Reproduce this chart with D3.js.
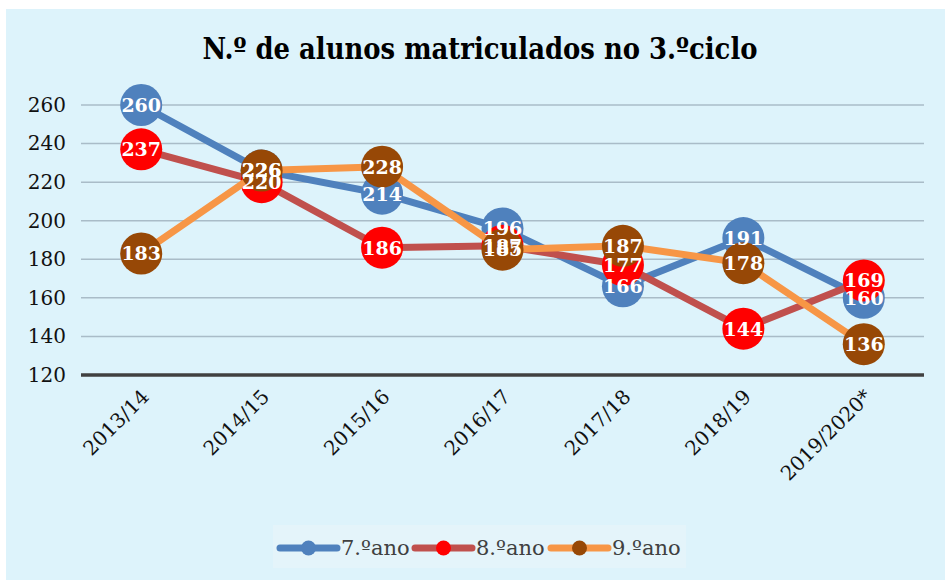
<!DOCTYPE html>
<html>
<head>
<meta charset="utf-8">
<script src="https://cdn.jsdelivr.net/npm/d3@7"></script>
<style>
  html, body { margin: 0; padding: 0; background: #fff; }
  svg { display: block; }
</style>
</head>
<body>
<div id="chart"></div>
<script>
var years = ["2013/14", "2014/15", "2015/16", "2016/17", "2017/18", "2018/19", "2019/2020*"];
var ano7 = [260, 226, 214, 196, 166, 191, 160];
var ano8 = [237, 220, 186, 187, 177, 144, 169];
var ano9 = [183, 226, 228, 185, 187, 178, 136];
var seriesNames = ["7.ºano", "8.ºano", "9.ºano"];
var yTicks = [120, 140, 160, 180, 200, 220, 240, 260];

var series = [
	{ name: seriesNames[0], values: ano7, line: "#4F81BD", marker: "#4F81BD" },
	{ name: seriesNames[1], values: ano8, line: "#C0504D", marker: "#FF0000" },
	{ name: seriesNames[2], values: ano9, line: "#F79646", marker: "#974806" }
];

var width = 945, height = 580;
var serif = "'DejaVu Serif', 'Liberation Serif', serif";

var svg = d3.select("#chart").append("svg")
	.attr("width", width)
	.attr("height", height);

// panel background
svg.append("rect")
	.attr("x", 6).attr("y", 9)
	.attr("width", width - 6).attr("height", height - 9)
	.attr("fill", "#DDF3FB");

// title
svg.append("text")
	.attr("x", 480).attr("y", 59)
	.attr("text-anchor", "middle")
	.attr("textLength", 555)
	.attr("lengthAdjust", "spacingAndGlyphs")
	.style("font-family", serif)
	.style("font-weight", "bold")
	.style("font-size", "30px")
	.style("fill", "#000")
	.text("N.º de alunos matriculados no 3.ºciclo");

var x = d3.scaleBand()
	.domain(years)
	.range([81, 924]);

var y = d3.scaleLinear()
	.domain([120, 260])
	.range([375, 105]);

function cx(i) { return x(years[i]) + x.bandwidth() / 2; }

// gridlines
svg.append("g").selectAll("line")
	.data(yTicks.filter(function (d) { return d != 120; }))
	.enter().append("line")
	.attr("x1", 81).attr("x2", 924)
	.attr("y1", function (d) { return y(d); })
	.attr("y2", function (d) { return y(d); })
	.attr("stroke", "#A9BCC8")
	.attr("stroke-width", 1.5);

// y axis labels
var yAxis = svg.append("g")
	.attr("transform", "translate(66,0)")
	.call(d3.axisLeft(y).tickValues(yTicks).tickSize(0).tickPadding(0));
yAxis.select(".domain").remove();
yAxis.selectAll("text")
	.style("font-family", serif)
	.style("font-size", "20px")
	.style("fill", "#111");

// base line
svg.append("line")
	.attr("x1", 81).attr("x2", 924)
	.attr("y1", y(120)).attr("y2", y(120))
	.attr("stroke", "#404040")
	.attr("stroke-width", 3.5);

// x labels
svg.append("g").selectAll("text")
	.data(years)
	.enter().append("text")
	.attr("transform", function (d, i) { return "translate(" + (cx(i) + 4) + ",393) rotate(-45)"; })
	.attr("text-anchor", "end")
	.attr("dy", "0.35em")
	.style("font-family", serif)
	.style("font-size", "20px")
	.style("fill", "#111")
	.text(function (d) { return d; });

var line = d3.line()
	.x(function (d, i) { return cx(i); })
	.y(function (d) { return y(d); });

series.forEach(function (s) {
	svg.append("path")
		.datum(s.values)
		.attr("d", line)
		.attr("fill", "none")
		.attr("stroke", s.line)
		.attr("stroke-width", 7)
		.attr("stroke-linejoin", "round");
	svg.append("g").selectAll("circle")
		.data(s.values)
		.enter().append("circle")
		.attr("cx", function (d, i) { return cx(i); })
		.attr("cy", function (d) { return y(d); })
		.attr("r", 21)
		.attr("fill", s.marker);
});

series.forEach(function (s) {
	svg.append("g").selectAll("text")
		.data(s.values)
		.enter().append("text")
		.attr("x", function (d, i) { return cx(i); })
		.attr("y", function (d) { return y(d); })
		.attr("dy", "0.36em")
		.attr("text-anchor", "middle")
		.style("font-family", serif)
		.style("font-weight", "bold")
		.style("font-size", "19px")
		.style("fill", "#fff")
		.text(function (d) { return d; });
});

// legend
svg.append("rect")
	.attr("x", 273).attr("y", 525)
	.attr("width", 413).attr("height", 43)
	.attr("fill", "#E4F4FA");

var legendX = [280, 415, 551];
var lg = svg.append("g").selectAll("g")
	.data(series)
	.enter().append("g")
	.attr("transform", function (d, i) { return "translate(" + legendX[i] + ",548)"; });
lg.append("line")
	.attr("x1", 0).attr("x2", 57)
	.attr("stroke", function (d) { return d.line; })
	.attr("stroke-width", 7)
	.attr("stroke-linecap", "round");
lg.append("circle")
	.attr("cx", 28.5).attr("r", 7.5)
	.attr("fill", function (d) { return d.marker; });
lg.append("text")
	.attr("x", 61)
	.attr("dy", "0.35em")
	.style("font-family", serif)
	.style("font-size", "21px")
	.style("fill", "#404040")
	.text(function (d) { return d.name; });
</script>
</body>
</html>
